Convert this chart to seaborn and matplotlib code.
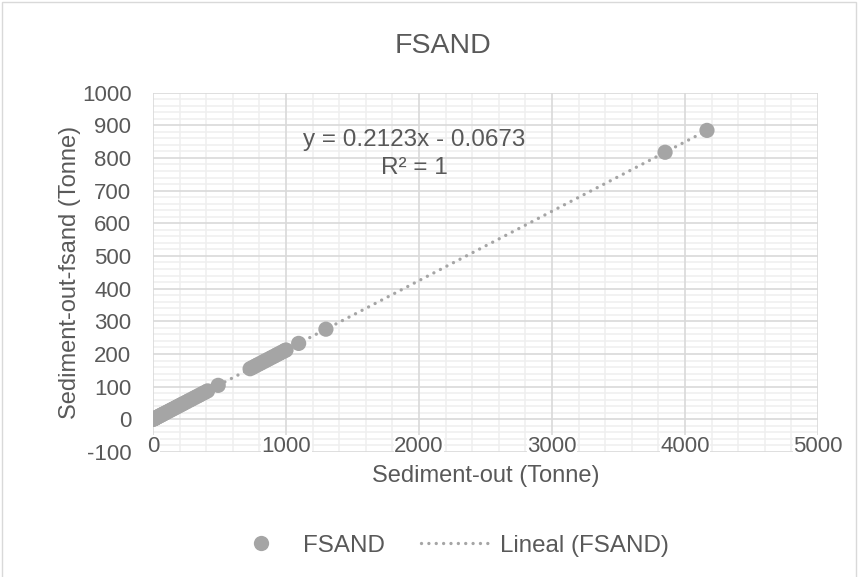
import matplotlib.pyplot as plt
import numpy as np
import pandas as pd
import seaborn as sns
from matplotlib.ticker import MultipleLocator
from matplotlib.lines import Line2D
from matplotlib.patches import Rectangle

# values
sediment_out = [0, 5, 10, 15, 20, 30, 40, 50, 60, 70, 80, 95, 110, 125, 140, 155,
                170, 185, 200, 215, 230, 250, 270, 290, 310, 330, 350, 370, 390, 410,
                490, 730, 750, 770, 790, 810, 830, 850, 870, 890, 910, 930, 950, 970,
                990, 1000, 1095, 1300, 3850, 4165]
sediment_fsand = [0, 1.0, 2.1, 3.1, 4.2, 6.3, 8.4, 10.5, 12.7, 14.8, 16.9, 20.1, 23.3,
                  26.5, 29.7, 32.8, 36.0, 39.2, 42.4, 45.6, 48.8, 53.0, 57.3, 61.5, 65.7,
                  70.0, 74.2, 78.5, 82.7, 87.0, 104.0, 154.9, 159.2, 163.4, 167.7, 171.9,
                  176.1, 180.4, 184.6, 188.9, 193.1, 197.4, 201.6, 205.9, 210.1, 212.2,
                  232.4, 275.9, 817.3, 884.2]
equation = "y = 0.2123x - 0.0673"
r2_text = "R² = 1"

df = pd.DataFrame({'x': sediment_out, 'y': sediment_fsand})

grey = '#A5A5A5'
txt = '#595959'
dotted = (0, (0.01, 2.2))

sns.set_style('white')
plt.rcParams['font.family'] = ['Liberation Sans', 'DejaVu Sans']
plt.rcParams['axes.unicode_minus'] = False

fig = plt.figure(figsize=(8.65, 5.77), dpi=100)
ax = fig.add_axes([0.1769, 0.2166, 0.7688, 0.623])

# trendline (linear fit) + points
sns.regplot(data=df, x='x', y='y', ax=ax, scatter=False, ci=None, truncate=True,
            line_kws=dict(color=grey, lw=2.4, ls=dotted, dash_capstyle='round', zorder=2))
sns.scatterplot(data=df, x='x', y='y', ax=ax, color=grey, s=120,
                edgecolor='none', zorder=3)

ax.set_xlim(0, 5000)
ax.set_ylim(-100, 1000)
ax.xaxis.set_major_locator(MultipleLocator(1000))
ax.xaxis.set_minor_locator(MultipleLocator(200))
ax.yaxis.set_major_locator(MultipleLocator(100))
ax.yaxis.set_minor_locator(MultipleLocator(20))
ax.set_axisbelow(True)

# gridlines: minor first, major on top, both under the tick labels
for xv in ax.xaxis.get_minorticklocs():
    ax.axvline(xv, color='#EFEFEF', lw=1.1, zorder=0.2)
for yv in ax.yaxis.get_minorticklocs():
    ax.axhline(yv, color='#EFEFEF', lw=1.1, zorder=0.2)
for xv in ax.get_xticks():
    ax.axvline(xv, color='#D9D9D9', lw=1.2, zorder=0.3)
for yv in ax.get_yticks():
    ax.axhline(yv, color='#D9D9D9', lw=1.2, zorder=0.3)
ax.set_xlim(0, 5000)
ax.set_ylim(-100, 1000)

for s in ax.spines.values():
    s.set_visible(False)
# horizontal axis crosses at y = 0, as in the original
ax.spines['bottom'].set_position(('data', 0))
ax.tick_params(which='both', length=0, labelsize=16, colors=txt)
ax.tick_params(axis='y', pad=15.5)
ax.tick_params(axis='x', pad=12)
for lbl in ax.get_xticklabels():
    lbl.set_bbox(dict(facecolor='white', edgecolor='none', pad=0.5))

ax.set_xlabel('Sediment-out (Tonne)', fontsize=17, color=txt, va='top')
ax.xaxis.set_label_coords(0.5, -0.036)
ax.set_ylabel('Sediment-out-fsand (Tonne)', fontsize=17, color=txt)
ax.yaxis.set_label_coords(-0.108, 0.5)
fig.text(0.512, 0.908, 'FSAND', ha='center', va='baseline', fontsize=20.5, color=txt)

ax.text(1962, 836, equation, ha='center', va='baseline', fontsize=17.5, color=txt)
ax.text(1962, 750, r2_text, ha='center', va='baseline', fontsize=17.5, color=txt)

handles = [Line2D([], [], marker='o', color=grey, ls='none', markersize=11, markeredgewidth=0),
           Line2D([], [], color=grey, lw=2.4, ls=dotted, dash_capstyle='round')]
fig.legend(handles, ['FSAND', 'Lineal (FSAND)'], loc='center', bbox_to_anchor=(0.516, 0.054),
           ncol=2, frameon=False, fontsize=17.4, labelcolor=txt, handlelength=3.0,
           columnspacing=1.5, handletextpad=0.25)

fig.add_artist(Rectangle((0.002, -0.01), 0.988, 1.007, transform=fig.transFigure,
                         fill=False, edgecolor='#D9D9D9', lw=1))

fig.savefig('out.png', dpi=100)
